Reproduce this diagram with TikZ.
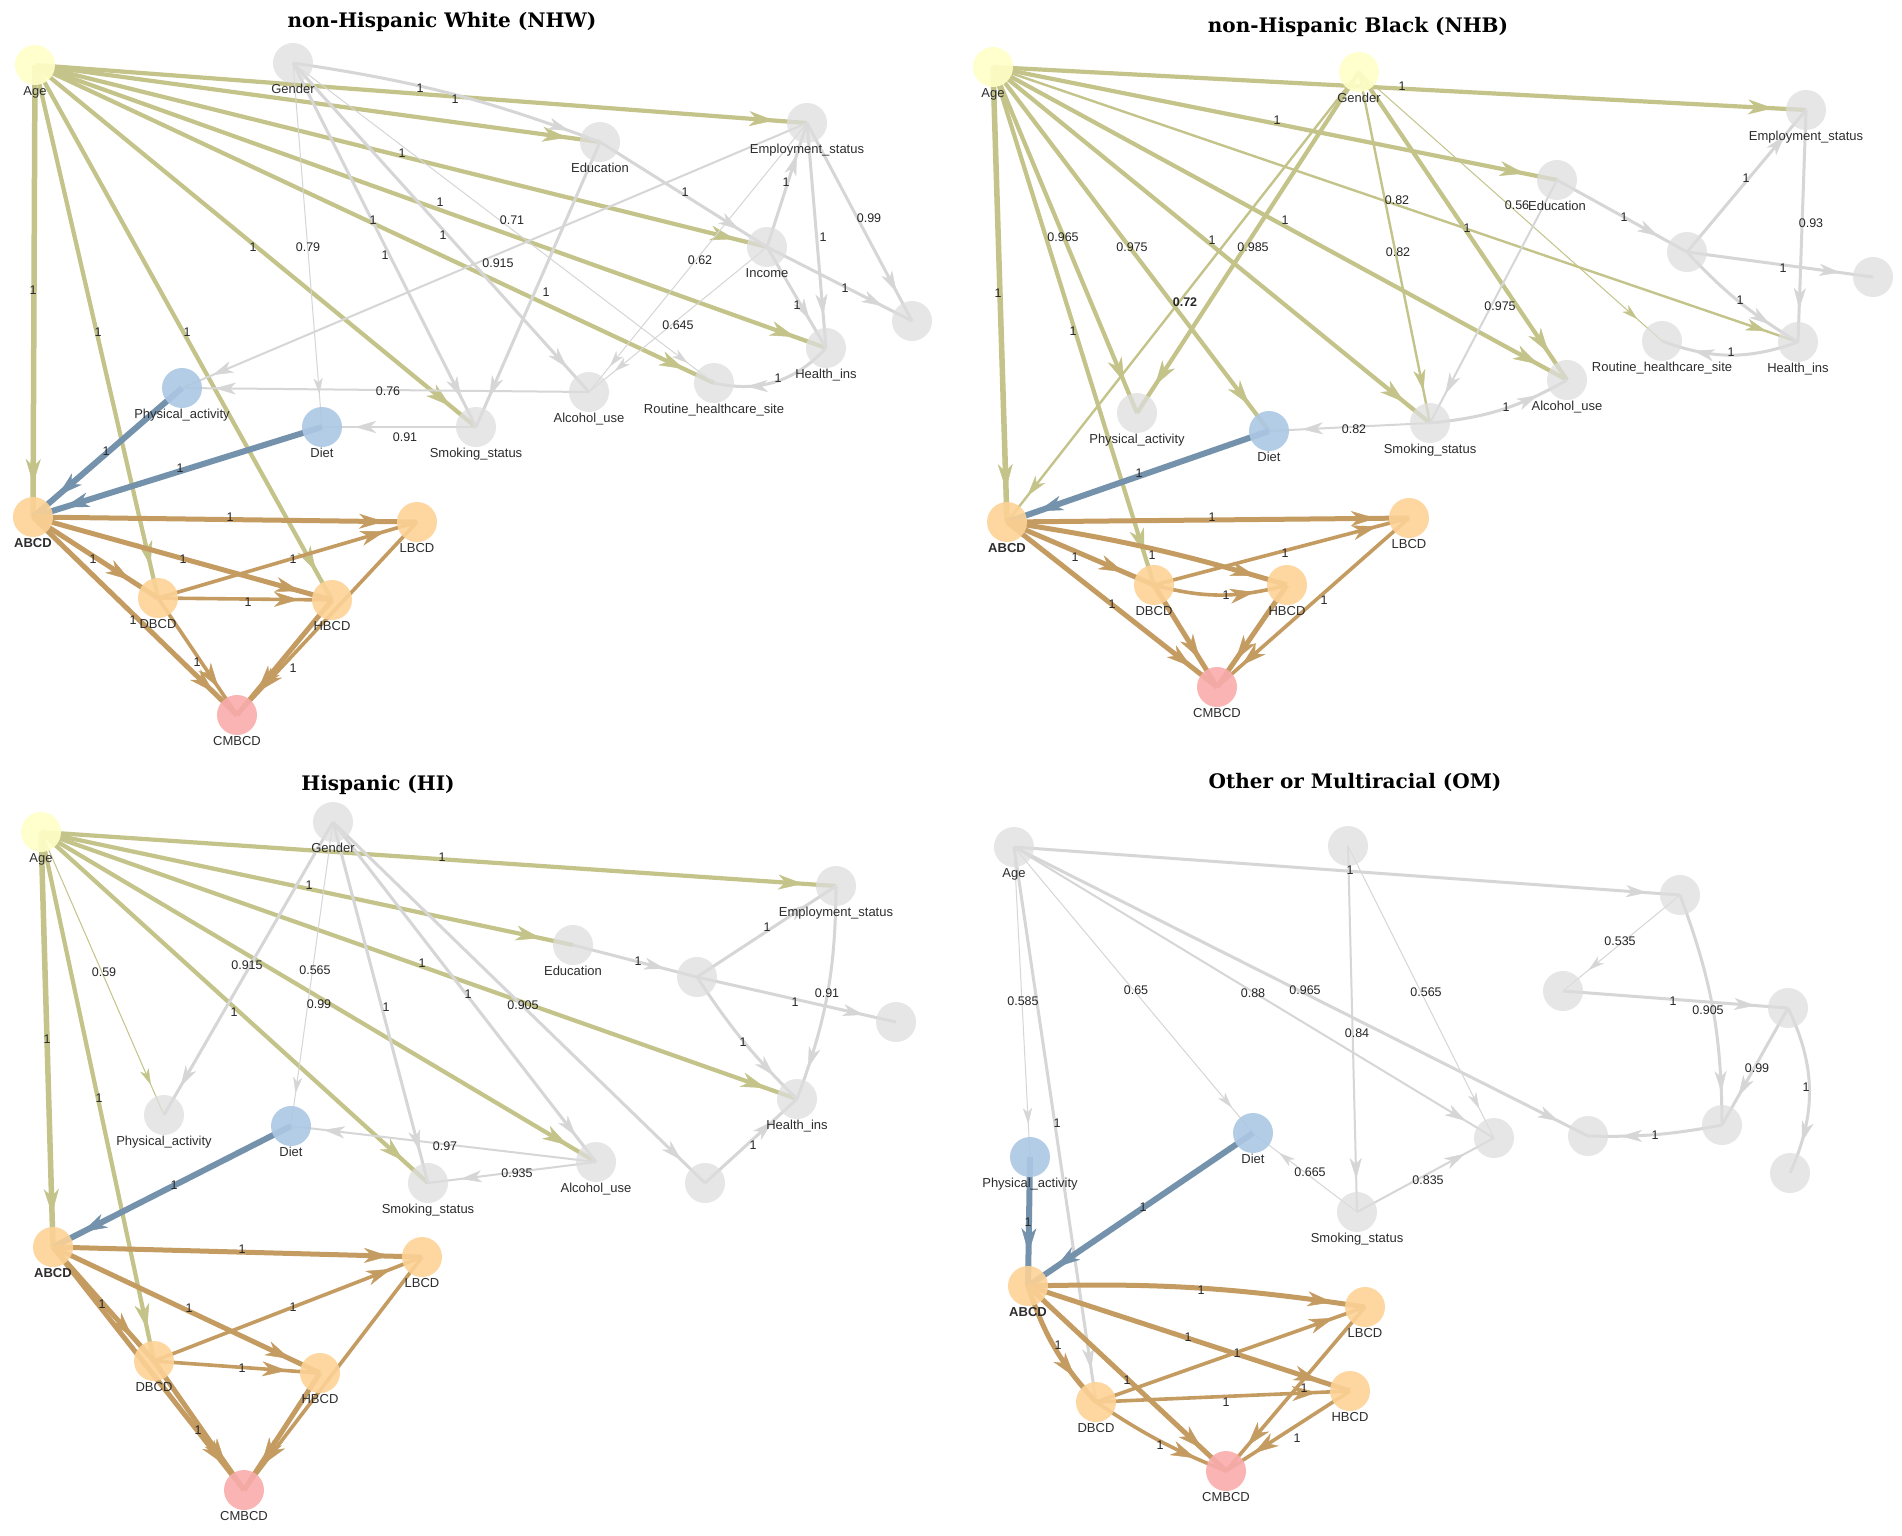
\documentclass[tikz,border=0pt]{standalone}
\usepackage{fontspec}
\setmainfont{Liberation Sans}
\newfontfamily\ttlfont{DejaVu Serif}
\usetikzlibrary{arrows.meta,decorations.markings}
\definecolor{cY}{RGB}{255,255,200}
\definecolor{cG}{RGB}{222,222,222}
\definecolor{cB}{RGB}{172,200,228}
\definecolor{cO}{RGB}{253,210,150}
\definecolor{cP}{RGB}{250,172,172}
\definecolor{eOl}{RGB}{195,195,138}
\definecolor{eGr}{RGB}{214,214,214}
\definecolor{eBl}{RGB}{116,146,172}
\definecolor{eOr}{RGB}{196,156,98}
\definecolor{tx}{RGB}{45,45,45}
\pgfdeclarelayer{bg}
\pgfsetlayers{bg,main}
\newcounter{lbc}
\newcommand\el[2]{\stepcounter{lbc}\node[elab] (lab\arabic{lbc}) at (#1) {#2};}
\newcommand\nn[5]{\node[#1,label={[nlab]below:#5}] (#2) at (#3,#4) {};}
\newcommand\ed[4][--]{\draw[#2] (#3.center) #1 (#4.center);}
\tikzset{
  nd/.style={circle,minimum size=40pt,inner sep=0pt,draw=none,fill opacity=0.9,text opacity=1,label distance=3.5pt},
  ny/.style={nd,fill=cY},
  ng/.style={nd,fill=cG,fill opacity=0.75},
  nb/.style={nd,fill=cB},
  no/.style={nd,fill=cO},
  np/.style={nd,fill=cP},
  nlab/.style={font=\fontsize{13}{15}\selectfont,text=tx,inner sep=1pt,fill opacity=1,text opacity=1},
  elab/.style={font=\fontsize{12.5}{14}\selectfont,text=black!85,inner sep=0.5pt},
  ttl/.style={font=\ttlfont\bfseries\fontsize{20}{24}\selectfont,text=black},
  tipbig/.style={postaction={decorate},decoration={markings,mark=at position -33pt with {\arrow{Stealth[length=25pt,width=15pt,inset=7.5pt,line width=0.4pt]}}}},
  tipmid/.style={postaction={decorate},decoration={markings,mark=at position -33pt with {\arrow{Stealth[length=21pt,width=12pt,inset=6pt,line width=0.4pt]}}}},
  tipsml/.style={postaction={decorate},decoration={markings,mark=at position -33pt with {\arrow{Stealth[length=16pt,width=9pt,inset=4.5pt,line width=0.3pt]}}}},
  ol/.style={color=eOl,line width=4.2pt,tipbig},
  olk/.style={color=eOl,line width=5.5pt,tipbig},
  olm/.style={color=eOl,line width=2.4pt,tipmid},
  olt/.style={color=eOl,line width=1pt,tipsml},
  gr/.style={color=eGr,line width=3pt,tipmid},
  grm/.style={color=eGr,line width=2pt,tipmid},
  grt/.style={color=eGr,line width=1pt,tipsml},
  bl/.style={color=eBl,line width=6pt,tipbig},
  oe/.style={color=eOr,line width=5pt,tipbig},
  oet/.style={color=eOr,line width=3.6pt,tipbig},
}
\begin{document}
\begin{tikzpicture}[x=1pt,y=-1pt]
\useasboundingbox (0,0) rectangle (1902,1535);
% ---------- titles
\node[ttl] (t1) at (442,22) {non-Hispanic White (NHW)};
\node[ttl] (t2) at (1358,27) {non-Hispanic Black (NHB)};
\node[ttl] (t3) at (378,785) {Hispanic (HI)};
\node[ttl] (t4) at (1355,782) {Other or Multiracial (OM)};
% ---------- NHW nodes
\nn{ny}{aAge}{35}{65}{Age}
\nn{ng}{aGen}{293}{63}{Gender}
\nn{ng}{aEdu}{600}{142}{Education}
\nn{ng}{aEmp}{807}{123}{Employment\_status}
\nn{ng}{aInc}{767}{247}{Income}
\nn{ng}{aX}{912}{321}{}
\nn{ng}{aHea}{826}{348}{Health\_ins}
\nn{ng}{aRou}{714}{383}{Routine\_healthcare\_site}
\nn{ng}{aAlc}{589}{392}{Alcohol\_use}
\nn{ng}{aSmo}{476}{427}{Smoking\_status}
\nn{nb}{aPhy}{182}{388}{Physical\_activity}
\nn{nb}{aDie}{322}{427}{Diet}
\nn{no}{aABC}{33}{517}{\textbf{ABCD}}
\nn{no}{aLBC}{417}{522}{LBCD}
\nn{no}{aDBC}{158}{598}{DBCD}
\nn{no}{aHBC}{332}{600}{HBCD}
\nn{np}{aCMB}{237}{715}{CMBCD}
% ---------- NHB nodes
\nn{ny}{bAge}{993}{67}{Age}
\nn{ny}{bGen}{1359}{72}{Gender}
\nn{ng}{bEmp}{1806}{110}{Employment\_status}
\nn{ng}{bEdu}{1557}{180}{Education}
\nn{ng}{bInc}{1687}{252}{}
\nn{ng}{bX}{1873}{277}{}
\nn{ng}{bHea}{1798}{342}{Health\_ins}
\nn{ng}{bRou}{1662}{341}{Routine\_healthcare\_site}
\nn{ng}{bAlc}{1567}{380}{Alcohol\_use}
\nn{ng}{bSmo}{1430}{423}{Smoking\_status}
\nn{ng}{bPhy}{1137}{413}{Physical\_activity}
\nn{nb}{bDie}{1269}{431}{Diet}
\nn{no}{bABC}{1007}{522}{\textbf{ABCD}}
\nn{no}{bLBC}{1409}{518}{LBCD}
\nn{no}{bDBC}{1154}{585}{DBCD}
\nn{no}{bHBC}{1287}{585}{HBCD}
\nn{np}{bCMB}{1217}{687}{CMBCD}
% ---------- HI nodes
\nn{ny}{cAge}{41}{832}{Age}
\nn{ng}{cGen}{333}{822}{Gender}
\nn{ng}{cEmp}{836}{886}{Employment\_status}
\nn{ng}{cEdu}{573}{945}{Education}
\nn{ng}{cInc}{697}{977}{}
\nn{ng}{cX}{896}{1022}{}
\nn{ng}{cHea}{797}{1099}{Health\_ins}
\nn{ng}{cY}{705}{1183}{}
\nn{ng}{cAlc}{596}{1162}{Alcohol\_use}
\nn{ng}{cSmo}{428}{1183}{Smoking\_status}
\nn{ng}{cPhy}{164}{1115}{Physical\_activity}
\nn{nb}{cDie}{291}{1126}{Diet}
\nn{no}{cABC}{53}{1247}{\textbf{ABCD}}
\nn{no}{cLBC}{422}{1257}{LBCD}
\nn{no}{cDBC}{154}{1361}{DBCD}
\nn{no}{cHBC}{320}{1373}{HBCD}
\nn{np}{cCMB}{244}{1490}{CMBCD}
% ---------- OM nodes
\nn{ng}{dAge}{1014}{847}{Age}
\nn{ng}{dGen}{1348}{846}{}
\nn{ng}{dEmp}{1680}{895}{}
\nn{ng}{dEdu}{1563}{991}{}
\nn{ng}{dInc}{1788}{1008}{}
\nn{ng}{dHea}{1722}{1125}{}
\nn{ng}{dX}{1790}{1173}{}
\nn{ng}{dRou}{1588}{1136}{}
\nn{ng}{dAlc}{1494}{1138}{}
\nn{ng}{dSmo}{1357}{1212}{Smoking\_status}
\nn{nb}{dPhy}{1030}{1157}{Physical\_activity}
\nn{nb}{dDie}{1253}{1133}{Diet}
\nn{no}{dABC}{1028}{1286}{\textbf{ABCD}}
\nn{no}{dLBC}{1365}{1307}{LBCD}
\nn{no}{dHBC}{1350}{1391}{HBCD}
\nn{no}{dDBC}{1096}{1402}{DBCD}
\nn{np}{dCMB}{1226}{1471}{CMBCD}
% ================= edges
\begin{pgfonlayer}{bg}
\fill[white] (0,0) rectangle (1902,1535);
% NHW
\ed{ol}{aAge}{aEmp}
\ed{ol}{aAge}{aEdu}
\ed{ol}{aAge}{aInc}
\ed{ol}{aAge}{aHea}
\ed{ol}{aAge}{aRou}
\ed{ol}{aAge}{aSmo}
\ed{olk}{aAge}{aABC}
\ed{ol}{aAge}{aDBC}
\ed{ol}{aAge}{aHBC}
\ed[{to[bend left=6]}]{gr}{aGen}{aEdu}
\ed{grt}{aGen}{aDie}
\ed{gr}{aGen}{aSmo}
\ed{gr}{aGen}{aAlc}
\ed{grt}{aGen}{aRou}
\ed{grm}{aEmp}{aPhy}
\ed{gr}{aEdu}{aSmo}
\ed{gr}{aEdu}{aInc}
\ed{gr}{aInc}{aEmp}
\ed{gr}{aEmp}{aHea}
\ed{gr}{aEmp}{aX}
\ed{gr}{aInc}{aHea}
\ed{gr}{aInc}{aX}
\ed[{to[bend left=30]}]{gr}{aHea}{aRou}
\ed{grt}{aEmp}{aAlc}
\ed{grt}{aInc}{aAlc}
\ed{grm}{aAlc}{aPhy}
\ed{grm}{aSmo}{aDie}
\ed{bl}{aPhy}{aABC}
\ed{bl}{aDie}{aABC}
\ed{oe}{aABC}{aLBC}
\ed{oe}{aABC}{aDBC}
\ed{oe}{aABC}{aHBC}
\ed{oe}{aABC}{aCMB}
\ed{oet}{aDBC}{aLBC}
\ed{oet}{aDBC}{aHBC}
\ed{oet}{aDBC}{aCMB}
\ed{oe}{aHBC}{aCMB}
\ed{oet}{aLBC}{aCMB}
% NHB
\ed{ol}{bAge}{bEmp}
\ed{ol}{bAge}{bEdu}
\ed{olm}{bAge}{bHea}
\ed{ol}{bAge}{bAlc}
\ed{ol}{bAge}{bSmo}
\ed{ol}{bAge}{bDie}
\ed{ol}{bAge}{bPhy}
\ed{ol}{bAge}{bDBC}
\ed{olk}{bAge}{bABC}
\ed{ol}{bGen}{bPhy}
\ed{olm}{bGen}{bABC}
\ed{olm}{bGen}{bSmo}
\ed{ol}{bGen}{bAlc}
\ed{olt}{bGen}{bRou}
\ed{grm}{bEdu}{bSmo}
\ed{gr}{bEdu}{bInc}
\ed{gr}{bInc}{bEmp}
\ed{gr}{bEmp}{bHea}
\ed{gr}{bInc}{bX}
\ed[{to[bend right=8]}]{gr}{bInc}{bHea}
\ed[{to[bend left=20]}]{gr}{bHea}{bRou}
\ed[{to[bend right=12]}]{gr}{bSmo}{bAlc}
\ed{grm}{bSmo}{bDie}
\ed{bl}{bDie}{bABC}
\ed{oe}{bABC}{bLBC}
\ed{oe}{bABC}{bDBC}
\ed[{to[bend left=4]}]{oe}{bABC}{bHBC}
\ed{oe}{bABC}{bCMB}
\ed{oet}{bDBC}{bLBC}
\ed[{to[bend right=15]}]{oet}{bDBC}{bHBC}
\ed{oe}{bDBC}{bCMB}
\ed{oe}{bHBC}{bCMB}
\ed{oet}{bLBC}{bCMB}
% HI
\ed{ol}{cAge}{cEmp}
\ed{ol}{cAge}{cEdu}
\ed{ol}{cAge}{cHea}
\ed{ol}{cAge}{cAlc}
\ed{ol}{cAge}{cSmo}
\ed{olt}{cAge}{cPhy}
\ed{olk}{cAge}{cABC}
\ed{ol}{cAge}{cDBC}
\ed{gr}{cGen}{cPhy}
\ed{grt}{cGen}{cDie}
\ed{gr}{cGen}{cSmo}
\ed{gr}{cGen}{cAlc}
\ed{gr}{cGen}{cY}
\ed{gr}{cEdu}{cInc}
\ed{gr}{cInc}{cEmp}
\ed{gr}{cInc}{cX}
\ed[{to[bend left=10]}]{gr}{cEmp}{cHea}
\ed[{to[bend right=6]}]{gr}{cInc}{cHea}
\ed{gr}{cY}{cHea}
\ed{grm}{cAlc}{cSmo}
\ed{grm}{cAlc}{cDie}
\ed{bl}{cDie}{cABC}
\ed{oe}{cABC}{cLBC}
\ed{oe}{cABC}{cDBC}
\ed{oe}{cABC}{cHBC}
\ed{oe}{cABC}{cCMB}
\ed{oet}{cDBC}{cLBC}
\ed{oet}{cDBC}{cHBC}
\ed{oe}{cDBC}{cCMB}
\ed{oe}{cHBC}{cCMB}
\ed{oet}{cLBC}{cCMB}
% OM
\ed{gr}{dAge}{dEmp}
\ed{grm}{dGen}{dSmo}
\ed{grt}{dGen}{dAlc}
\ed{gr}{dAge}{dRou}
\ed{grm}{dAge}{dAlc}
\ed{grt}{dAge}{dDie}
\ed{grt}{dAge}{dPhy}
\ed{gr}{dAge}{dDBC}
\ed{grt}{dSmo}{dDie}
\ed{grm}{dSmo}{dAlc}
\ed{grt}{dEmp}{dEdu}
\ed{gr}{dEdu}{dInc}
\ed[{to[bend left=10]}]{gr}{dEmp}{dHea}
\ed{gr}{dInc}{dHea}
\ed[{to[bend left=25]}]{gr}{dInc}{dX}
\ed[{to[bend left=6]}]{gr}{dHea}{dRou}
\ed{bl}{dPhy}{dABC}
\ed{bl}{dDie}{dABC}
\ed[{to[bend left=5]}]{oe}{dABC}{dLBC}
\ed{oe}{dABC}{dHBC}
\ed[{to[bend right=12]}]{oe}{dABC}{dDBC}
\ed{oe}{dABC}{dCMB}
\ed{oet}{dDBC}{dLBC}
\ed{oet}{dDBC}{dHBC}
\ed[{to[bend right=6]}]{oet}{dDBC}{dCMB}
\ed{oet}{dHBC}{dCMB}
\ed{oet}{dLBC}{dCMB}
\end{pgfonlayer}
% ================= edge labels
% NHW
\el{420,88}{1} \el{402,153}{1} \el{440,202}{1} \el{373,220}{1} \el{253,247}{1}
\el{33,290}{1} \el{98,332}{1} \el{187,332}{1}
\el{455,99}{1} \el{308,247}{0.79} \el{385,255}{1} \el{443,235}{1} \el{512,220}{0.71}
\el{498,263}{0.915} \el{546,292}{1} \el{685,192}{1} \el{786,182}{1} \el{823,237}{1}
\el{869,218}{0.99} \el{797,305}{1} \el{845,288}{1} \el{778,378}{1} \el{700,260}{0.62}
\el{678,325}{0.645} \el{388,391}{0.76} \el{405,437}{0.91}
\el{106,451}{1} \el{180,468}{1}
\el{230,517}{1} \el{93,559}{1} \el{183,559}{1} \el{133,620}{1} \el{293,559}{1}
\el{248,602}{1} \el{197,662}{1} \el{293,668}{1}
% NHB
\el{1402,86}{1} \el{1277,120}{1} \el{1397,200}{0.82} \el{1285,220}{1} \el{1212,240}{1}
\el{1132,247}{0.975} \el{1063,237}{0.965} \el{1073,331}{1} \el{998,293}{1}
\el{1253,247}{0.985} \el{1185,302}{\textbf{0.72}} \el{1398,252}{0.82} \el{1467,228}{1} \el{1517,205}{0.56}
\el{1500,306}{0.975} \el{1624,217}{1} \el{1746,178}{1} \el{1811,223}{0.93} \el{1783,268}{1}
\el{1740,300}{1} \el{1731,352}{1} \el{1506,407}{1} \el{1354,429}{0.82}
\el{1139,473}{1}
\el{1212,517}{1} \el{1075,557}{1} \el{1152,555}{1} \el{1112,604}{1} \el{1285,553}{1}
\el{1226,595}{1} \el{1324,600}{1}
% HI
\el{442,857}{1} \el{309,885}{1} \el{422,963}{1} \el{319,1004}{0.99} \el{234,1012}{1}
\el{104,972}{0.59} \el{47,1039}{1} \el{99,1098}{1}
\el{247,965}{0.915} \el{315,970}{0.565} \el{386,1007}{1} \el{468,994}{1} \el{523,1005}{0.905}
\el{638,961}{1} \el{767,927}{1} \el{795,1002}{1} \el{827,993}{0.91} \el{743,1042}{1}
\el{753,1145}{1} \el{517,1173}{0.935} \el{445,1146}{0.97}
\el{174,1185}{1}
\el{242,1249}{1} \el{102,1304}{1} \el{189,1308}{1} \el{293,1307}{1} \el{242,1368}{1} \el{198,1430}{1}
% OM
\el{1350,870}{1} \el{1357,1033}{0.84} \el{1426,992}{0.565} \el{1305,990}{0.965} \el{1253,993}{0.88}
\el{1136,990}{0.65} \el{1023,1001}{0.585} \el{1057,1123}{1} \el{1310,1172}{0.665} \el{1428,1180}{0.835}
\el{1620,941}{0.535} \el{1673,1001}{1} \el{1708,1010}{0.905} \el{1757,1068}{0.99} \el{1806,1087}{1}
\el{1655,1135}{1}
\el{1028,1222}{1} \el{1143,1207}{1}
\el{1201,1290}{1} \el{1188,1337}{1} \el{1058,1345}{1} \el{1127,1380}{1} \el{1237,1353}{1}
\el{1226,1402}{1} \el{1160,1445}{1} \el{1297,1438}{1} \el{1304,1388}{1}
\end{tikzpicture}
\end{document}
